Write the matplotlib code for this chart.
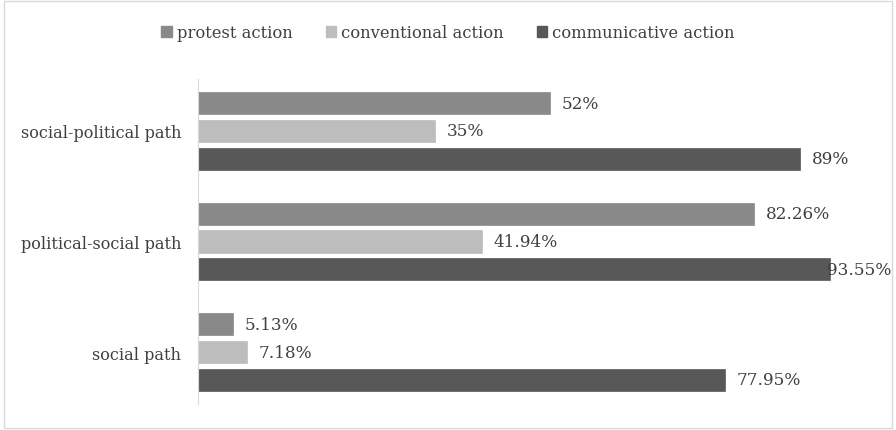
import matplotlib
matplotlib.use("Agg")
import matplotlib.pyplot as plt
from matplotlib.patches import Rectangle
import numpy as np

paths = ["social path", "political-social path", "social-political path"]
series = ["protest action", "conventional action", "communicative action"]
protest = [5.13, 82.26, 52]
conventional = [7.18, 41.94, 35]
communicative = [77.95, 93.55, 89]
labels = [["5.13%", "82.26%", "52%"],
          ["7.18%", "41.94%", "35%"],
          ["77.95%", "93.55%", "89%"]]

COL = ["#898989", "#bdbdbd", "#585858"]
TXT = "#404040"
plt.rcParams["font.family"] = ["DejaVu Serif"]

fig = plt.figure(figsize=(8.96, 4.31), dpi=100)
ax = fig.add_axes([198 / 896, 1 - 405 / 431, (874 - 198) / 896, (405 - 80) / 431])

y = np.arange(len(paths))
h = 0.2
offs = [0.25, 0.0, -0.25]
for vals, lab, col, off, name in zip([protest, conventional, communicative], labels, COL, offs, series):
    ax.barh(y + off, vals, height=h, color=col, edgecolor=col, lw=0.5, label=name)
    for yi, v, t in zip(y, vals, lab):
        xt = min(v + 1.8, 93.0)
        ax.text(xt, yi + off, t, va="center", ha="left", fontsize=12.2, color=TXT)

ax.set_xlim(0, 100)
ax.set_ylim(-0.47, 2.47)
ax.set_yticks(y)
ax.set_yticklabels(paths, fontsize=11.6, color=TXT)
ax.tick_params(axis="y", length=0, pad=12)
ax.set_xticks([])
for s in ["top", "right", "bottom"]:
    ax.spines[s].set_visible(False)
ax.spines["left"].set_color("#d9d9d9")

handles = [Rectangle((0, 0), 1, 1, color=c) for c in COL]
fig.legend(handles, series, loc="center", bbox_to_anchor=(0.5, 1 - 34 / 431), ncol=3,
           frameon=False, fontsize=11.8, handlelength=0.65, handleheight=0.65,
           handletextpad=0.3, columnspacing=2.0, labelcolor=TXT)

fig.patches.append(Rectangle((0.004, 0.005), 0.991, 0.99, transform=fig.transFigure,
                             fill=False, edgecolor="#d9d9d9", lw=1))
fig.savefig("out.png", dpi=100, facecolor="white")
